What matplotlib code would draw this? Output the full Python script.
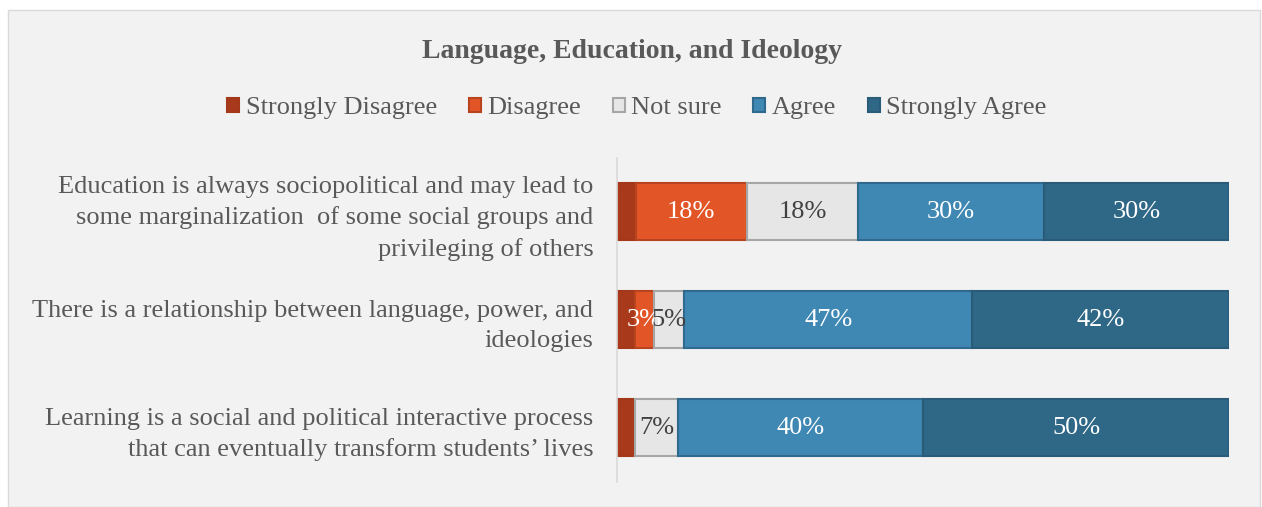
import matplotlib.pyplot as plt
import numpy as np
from matplotlib.patches import Patch, Rectangle

plt.rcParams['font.family'] = ['Liberation Serif', 'DejaVu Serif']

# survey statements (top to bottom) and answer shares in %
statements = [
    "Education is always sociopolitical and may lead to\nsome marginalization  of some social groups and\nprivileging of others",
    "There is a relationship between language, power, and\nideologies",
    "Learning is a social and political interactive process\nthat can eventually transform students\u2019 lives",
]
categories = ["Strongly Disagree", "Disagree", "Not sure", "Agree", "Strongly Agree"]
strongly_disagree = [3, 3, 3]
disagree = [18, 3, 0]
not_sure = [18, 5, 7]
agree = [30, 47, 40]
strongly_agree = [30, 42, 50]

colors = ["#A83A1B", "#E25527", "#E6E6E6", "#3F88B3", "#2F6786"]
edges = ["#A3391A", "#B8441F", "#A6A6A6", "#2F6A8E", "#2A5B78"]
txtcol = [None, "white", "#404040", "white", "white"]
show_label = [False, True, True, True, True]

data = np.array([strongly_disagree, disagree, not_sure, agree, strongly_agree], dtype=float)
shares = data / data.sum(axis=0) * 100  # 100% stacked

fig = plt.figure(figsize=(12.62, 5.07), dpi=100)
fig.patch.set_facecolor("white")
fig.patches.append(Rectangle((8 / 1262, 0), 1252 / 1262, 497 / 507, transform=fig.transFigure,
                             facecolor="#F2F2F2", edgecolor="#D9D9D9", linewidth=1, zorder=-10))

ax = fig.add_axes([617 / 1262, 25.5 / 507, 612 / 1262, 323.5 / 507])
ax.set_facecolor("none")

y = np.arange(len(statements))
left = np.zeros(len(statements))
for i, cat in enumerate(categories):
    ax.barh(y, shares[i], left=left, height=0.53, color=colors[i], edgecolor=edges[i],
            linewidth=1.5, label=cat)
    if show_label[i]:
        for j in range(len(statements)):
            if data[i, j] > 0:
                ax.text(left[j] + shares[i, j] / 2, y[j], "%d%%" % data[i, j], ha="center",
                        va="center", fontsize=19, color=txtcol[i])
    left += shares[i]

ax.set_xlim(0, 100)
ax.set_ylim(len(statements) - 0.5, -0.5)
ax.set_yticks(y)
ax.set_yticklabels(statements, fontsize=19, color="#595959", linespacing=1.45)
ax.tick_params(axis="y", length=0, pad=17)
ax.set_xticks([])
for s in ["top", "right", "bottom"]:
    ax.spines[s].set_visible(False)
ax.spines["left"].set_color("#D9D9D9")
ax.spines["left"].set_linewidth(1.2)

fig.text(632 / 1262, 1 - 51 / 507, "Language, Education, and Ideology", ha="center", va="center",
         fontsize=20, fontweight="bold", color="#595959")

handles = [Patch(facecolor=colors[i], edgecolor=edges[i], linewidth=1.5) for i in range(5)]
fig.legend(handles, categories, loc="center", bbox_to_anchor=(637 / 1262, 1 - 108 / 507), ncol=5,
           frameon=False, fontsize=19, handlelength=0.45, handleheight=0.45, handletextpad=0.25,
           columnspacing=1.2, labelcolor="#595959")

fig.savefig("out.png", dpi=100)
